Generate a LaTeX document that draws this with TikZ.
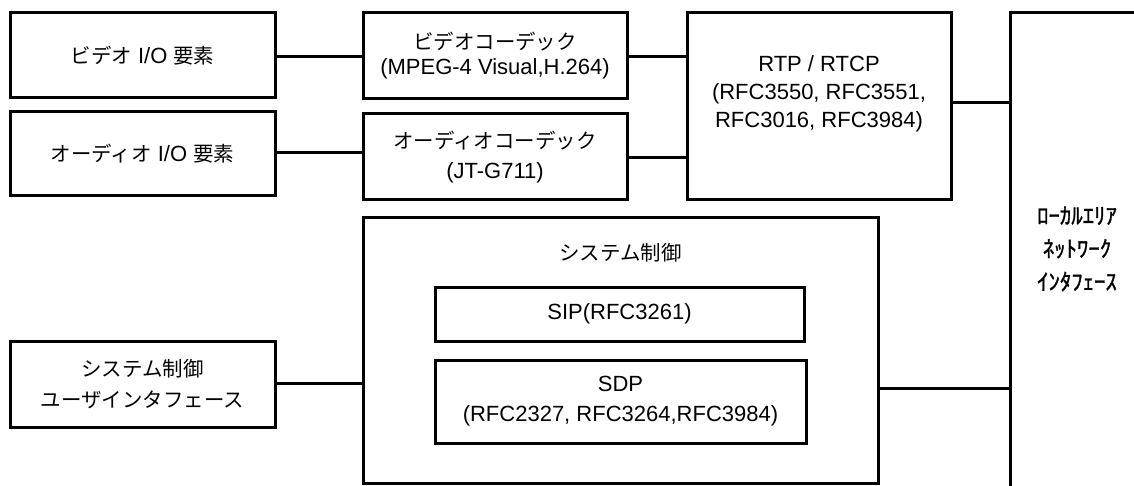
\documentclass[tikz,border=0pt]{standalone}
\usepackage{fontspec}
\setmainfont{Liberation Sans}
\newfontfamily\jp[Scale=0.93]{Noto Sans CJK JP}
\newfontfamily\jpb[Scale=0.93,FakeBold=1.2]{Noto Sans CJK JP}
\begin{document}
\begin{tikzpicture}[x=1pt,y=-1pt,
  every node/.style={font=\fontsize{22}{28}\selectfont},
  box/.style={draw, line width=3pt, align=center, inner sep=0pt, outer sep=0pt},
  txt/.style={align=center, inner sep=0pt},
  conn/.style={line width=3pt}]
\useasboundingbox (0,0) rectangle (1134,486);
\clip (0,0) rectangle (1134,486);
% left column
\node[box, minimum width=265pt, minimum height=85pt] (vio) at (142.5,55.5) {{\jp ビデオ} I/O {\jp 要素}};
\node[box, minimum width=265pt, minimum height=84pt] (aio) at (142.5,154) {{\jp オーディオ} I/O {\jp 要素}};
\node[box, minimum width=265pt, minimum height=86pt] (ui) at (142.5,384) {{\jp システム制御}\\[3pt]{\jp ユーザインタフェース}};
% codecs
\node[box, minimum width=264pt, minimum height=86pt] (vc) at (495,56) {{\jp ビデオコーデック}\\[-3pt](MPEG-4 Visual,H.264)};
\node[box, minimum width=264pt, minimum height=86pt] (ac) at (495,157) {{\jp オーディオコーデック}\\[2pt](JT-G711)};
% RTP
\node[box, minimum width=264pt, minimum height=187pt] (rtp) at (819,106.5) {};
\node[txt] (rtpt) at (819,94) {RTP / RTCP\\(RFC3550, RFC3551,\\RFC3016, RFC3984)};
% system control
\node[box, minimum width=515pt, minimum height=265pt] (sys) at (620.5,350.5) {};
\node[txt] (syst) at (620.5,253) {\jp システム制御};
\node[box, minimum width=369pt, minimum height=54pt] (sip) at (619.5,314) {SIP(RFC3261)};
\node[box, minimum width=371pt, minimum height=83pt] (sdp) at (620.5,401.5) {SDP\\[2pt](RFC2327, RFC3264,RFC3984)};
% LAN
\node[box, minimum width=135pt, minimum height=484pt] (lan) at (1077.5,255) {};
\node[txt, font=\fontsize{24.5}{33}\selectfont\jpb] (lant) at (1077,249) {ﾛｰｶﾙｴﾘｱ\\ﾈｯﾄﾜｰｸ\\ｲﾝﾀﾌｪｰｽ};
% connectors
\draw[conn] ([yshift=-1.5pt]vio.east) -- ([yshift=-1.5pt]vio.east -| vc.west);
\draw[conn] ([yshift=1pt]aio.east) -- ([yshift=1pt]aio.east -| ac.west);
\draw[conn] ([yshift=-1pt]vc.east) -- ([yshift=-1pt]vc.east -| rtp.west);
\draw[conn] ([yshift=-1pt]ac.east) -- ([yshift=-1pt]ac.east -| rtp.west);
\draw[conn] ([yshift=3.5pt]rtp.east) -- ([yshift=3.5pt]rtp.east -| lan.west);
\draw[conn] ([yshift=1pt]ui.east) -- ([yshift=1pt]ui.east -| sys.west);
\draw[conn] ([yshift=-37.5pt]sys.east) -- ([yshift=-37.5pt]sys.east -| lan.west);
\end{tikzpicture}
\end{document}
